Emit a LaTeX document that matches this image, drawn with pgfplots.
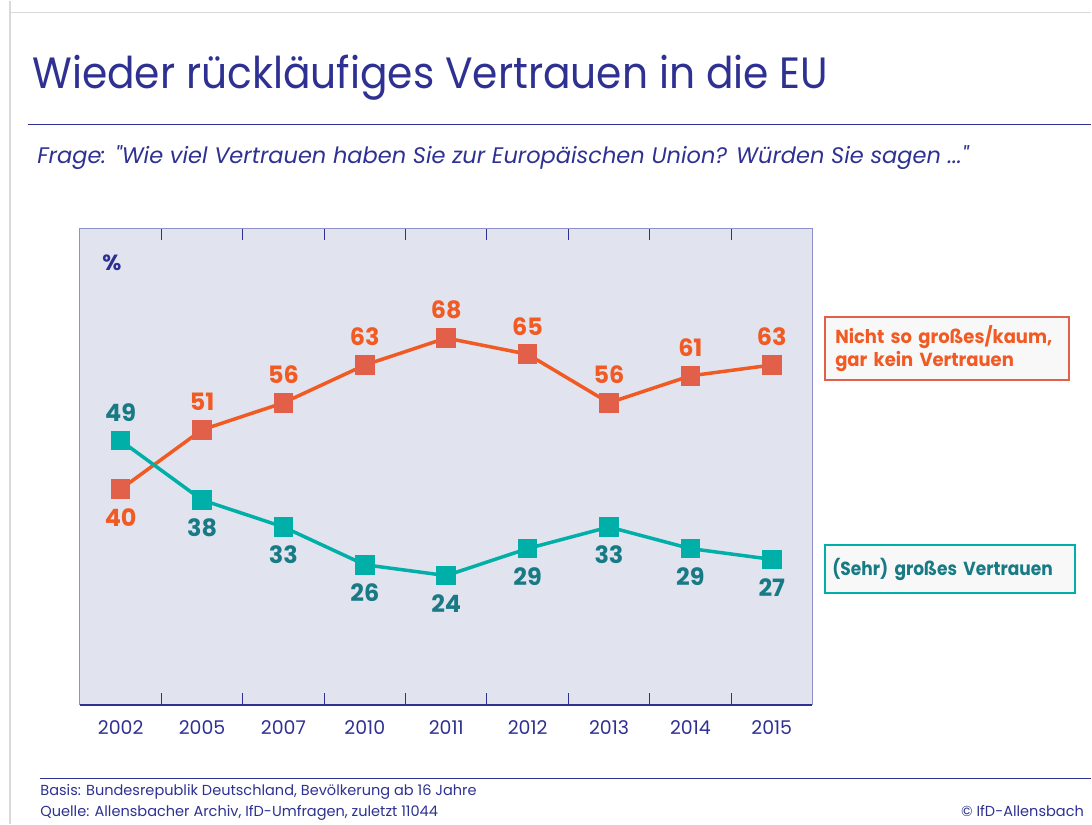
\documentclass[border=0pt]{standalone}
\usepackage{fontspec}
\setmainfont{Poppins}
\newfontfamily\titlefont[FakeStretch=0.93]{Poppins}
\newfontfamily\boxfont[FakeStretch=0.95]{Poppins}
\newfontfamily\tealfont[FakeStretch=0.9]{Poppins}
\usepackage{pgfplots}
\pgfplotsset{compat=1.18}

\definecolor{navy}{HTML}{2E3192}
\definecolor{frame}{HTML}{8E8FCB}
\definecolor{plotbg}{HTML}{E1E4EE}
\definecolor{orline}{HTML}{F15A22}
\definecolor{ormark}{HTML}{E2604A}
\definecolor{teline}{HTML}{00AFA8}
\definecolor{telabel}{HTML}{177A84}
\definecolor{boxbg}{HTML}{F8F8F8}

% pn/pp: +1 label above the marker, -1 below
\pgfplotstableread{
x year neg pos pn pp
0 2002 40 49 -1 1
1 2005 51 38 1 -1
2 2007 56 33 1 -1
3 2010 63 26 1 -1
4 2011 68 24 1 -1
5 2012 65 29 1 -1
6 2013 56 33 1 -1
7 2014 61 29 1 -1
8 2015 63 27 1 -1
}\trust

\begin{document}
\begin{tikzpicture}
% page frame 1092x824 px at 0.5bp per px
\path (0,0) rectangle (546bp,412bp);
\draw[black!15, line width=0.6bp] (5bp,412bp) -- (5bp,0) (5bp,406bp) -- (546bp,406bp);

\node[anchor=base west, inner sep=0, text=navy, font=\titlefont\fontsize{22}{26}\selectfont] at (16bp,368bp) {Wieder rückläufiges Vertrauen in die EU};
\draw[navy, line width=0.7bp] (14bp,350bp) -- (546bp,350bp);
\node[anchor=base west, inner sep=0, text=navy, font=\itshape\fontsize{11.3}{13}\selectfont] at (18.5bp,330.5bp) {Frage: \textquotedbl Wie viel Vertrauen haben Sie zur Europäischen Union? Würden Sie sagen ...\textquotedbl};

\begin{axis}[
  at={(40bp,59.5bp)}, anchor=south west,
  scale only axis, width=366.5bp, height=238.5bp,
  xmin=-0.5, xmax=8.5, ymin=0, ymax=88.3,
  axis line style={draw=none},
  axis background/.style={fill=plotbg},
  xtick={0,...,8},
  xticklabels={2002,2005,2007,2010,2011,2012,2013,2014,2015},
  major x tick style={draw=none},
  minor xtick={0.5,1.5,...,7.5},
  minor x tick style={navy, line width=0.5bp},
  minor tick length=6bp,
  tick align=inside,
  ytick=\empty,
  xticklabel style={anchor=center, yshift=-11bp, text=navy, font=\fontsize{9.5}{11}\selectfont},
  /pgf/number format/assume math mode=true,
  clip=false,
  every axis plot/.append style={line width=1.75bp, mark=square*, mark size=4bp},
  nodes near coords,
  visualization depends on={\thisrow{pn} \as \pn},
]
\draw[frame, line width=0.5bp] (rel axis cs:0,0) -- (rel axis cs:0,1) -- (rel axis cs:1,1) -- (rel axis cs:1,0);
\draw[navy, line width=0.9bp] (rel axis cs:0,0) -- (rel axis cs:1,0);

\addplot[orline, mark options={fill=ormark, draw=ormark},
  every node near coord/.style={anchor=center, yshift=\pn*14bp, text=orline, font=\bfseries\fontsize{12}{14}\selectfont}]
  table[x=x, y=neg] {\trust};
\end{axis}

\begin{axis}[
  at={(40bp,59.5bp)}, anchor=south west,
  scale only axis, width=366.5bp, height=238.5bp,
  xmin=-0.5, xmax=8.5, ymin=0, ymax=88.3,
  hide axis, clip=false,
  /pgf/number format/assume math mode=true,
  every axis plot/.append style={line width=1.75bp, mark=square*, mark size=4bp},
  nodes near coords,
  visualization depends on={\thisrow{pp} \as \pp},
]
\addplot[teline, mark options={fill=teline, draw=teline}, 
  every node near coord/.style={anchor=center, yshift=\pp*14bp, text=telabel, font=\bfseries\fontsize{12}{14}\selectfont}]
  table[x=x, y=pos] {\trust};
\end{axis}

\node[text=navy, font=\bfseries\fontsize{11}{13}\selectfont] at (56bp,281bp) {\%};

\node[anchor=north west, draw=ormark, line width=0.8bp, fill=boxbg, minimum width=122bp, minimum height=31.5bp,
  text width=112bp, align=left, inner xsep=5bp, text=orline, font=\boxfont\bfseries\fontsize{9.5}{11.5}\selectfont]
  at (412.5bp,254bp) {Nicht so großes/kaum,\\gar kein Vertrauen};
\node[anchor=north west, draw=teline, line width=0.8bp, fill=boxbg, minimum width=125bp, minimum height=24bp,
  text width=118bp, align=left, inner xsep=3.5bp, text=telabel, font=\tealfont\bfseries\fontsize{9.5}{11.5}\selectfont]
  at (412.5bp,140bp) {(Sehr)~großes~Vertrauen};

\draw[navy, line width=0.6bp] (20bp,23bp) -- (546bp,23bp);
\node[anchor=base west, text=navy, inner sep=0, font=\fontsize{7.3}{9}\selectfont] at (20bp,14.5bp) {Basis: Bundesrepublik Deutschland, Bevölkerung ab 16 Jahre};
\node[anchor=base west, text=navy, inner sep=0, font=\fontsize{7.3}{9}\selectfont] at (20bp,4bp) {Quelle: Allensbacher Archiv, IfD-Umfragen, zuletzt 11044};
\node[anchor=base east, text=navy, inner sep=0, font=\fontsize{7.3}{9}\selectfont] at (542.5bp,4bp) {© IfD-Allensbach};
\end{tikzpicture}
\end{document}
